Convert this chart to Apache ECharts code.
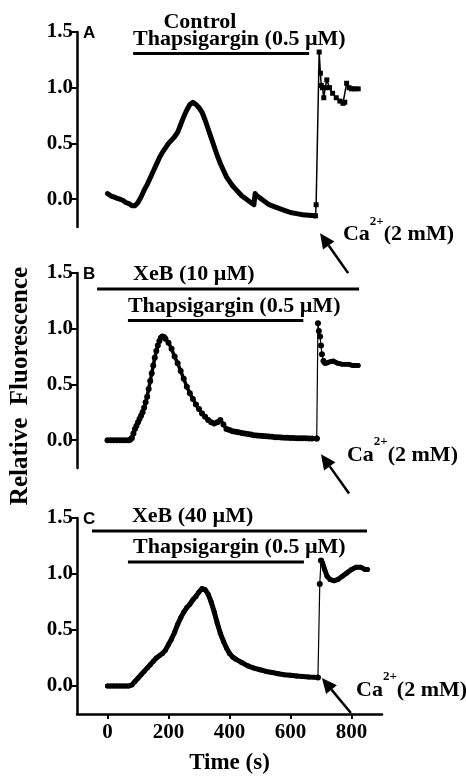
<!DOCTYPE html>
<html>
<head>
<meta charset="utf-8">
<style>
html,body{margin:0;padding:0;background:#fff;}
#chart{width:466px;height:776px;}
</style>
<script src="https://cdn.jsdelivr.net/npm/echarts@6/dist/echarts.min.js"></script>
</head>
<body>
<div id="chart"></div>
<script>
// ---- Data (time in s, relative fluorescence) ----
const yTicks = [0, 0.5, 1.0, 1.5];
const xTicks = [0, 200, 400, 600, 800];

// Panel A: Control
const traceA = [[0,0.05],[10,0.03],[20,0.02],[30,0.01],[40,0.0],[50,-0.01],[60,-0.03],[70,-0.04],[80,-0.06],[90,-0.06],
 [100,-0.03],[110,0.02],[120,0.08],[130,0.13],[140,0.19],[150,0.25],[160,0.31],[170,0.37],[180,0.42],[190,0.46],
 [200,0.50],[210,0.53],[220,0.56],[230,0.60],[240,0.67],[250,0.74],[260,0.80],[270,0.85],[280,0.87],[290,0.85],
 [300,0.82],[310,0.78],[320,0.71],[330,0.63],[340,0.55],[350,0.47],[360,0.39],[370,0.32],[380,0.26],[390,0.20],
 [400,0.16],[410,0.12],[420,0.09],[430,0.06],[440,0.03],[450,0.01],[460,-0.01],[470,-0.03],[480,-0.05],
 [484,0.05],[490,0.03],[500,0.01],[510,-0.01],[520,-0.03],[530,-0.05],[540,-0.06],[560,-0.08],[580,-0.10],
 [600,-0.12],[620,-0.13],[640,-0.14],[660,-0.145],[682,-0.15]];
const caA = [[682,-0.15],[684,-0.05],[694,1.32],[698,1.13],[701,1.02],[705,1.0],[709,0.91],[714,1.0],[719,1.07],
 [728,1.0],[738,0.95],[750,0.91],[762,0.88],[772,0.86],[778,0.87],[784,1.04],[792,1.0],[800,0.99],[810,0.99],[822,0.99]];

// Panel B: XeB 10 uM
const traceB = [[0,0.0],[10,0.0],[20,0.0],[30,0.0],[40,0.0],[50,0.0],[60,0.0],[70,0.0],[75,0.005],
 [80,0.02],[85,0.06],[90,0.10],[95,0.13],[100,0.16],[105,0.19],[110,0.22],[115,0.25],[120,0.29],[125,0.34],
 [130,0.39],[135,0.46],[140,0.53],[145,0.60],[150,0.67],[155,0.74],[160,0.80],[165,0.85],[170,0.89],[175,0.92],
 [180,0.93],[185,0.925],[190,0.91],[200,0.875],[210,0.82],[220,0.75],[230,0.69],[240,0.62],[250,0.55],[260,0.48],
 [270,0.42],[280,0.37],[290,0.32],[300,0.28],[310,0.24],[320,0.21],[330,0.18],[340,0.16],[350,0.15],[360,0.16],
 [370,0.18],[380,0.14],[390,0.10],[400,0.09],[410,0.08],[420,0.075],[430,0.07],[440,0.065],[450,0.06],[460,0.055],
 [470,0.05],[480,0.045],[490,0.042],[500,0.04],[510,0.037],[520,0.035],[530,0.032],[540,0.03],[550,0.027],
 [560,0.025],[570,0.023],[580,0.022],[590,0.021],[600,0.02],[610,0.019],[620,0.018],[630,0.017],[640,0.016],
 [650,0.016],[660,0.015],[670,0.015],[686,0.015]];
const caJumpB = [[686,0.015],[690,1.05],[693,0.98],[697,0.93],[700,0.85],[703,0.77],[708,0.71]];
const caB = [[708,0.71],[712,0.69],[718,0.69],[725,0.70],[732,0.705],[740,0.71],[748,0.70],[755,0.69],[762,0.685],
 [770,0.68],[780,0.68],[790,0.68],[798,0.675],[805,0.67],[812,0.67],[822,0.67]];

// Panel C: XeB 40 uM
const traceC = [[0,0.0],[10,0.0],[20,0.0],[30,0.0],[40,0.0],[50,0.0],[60,0.0],[70,0.0],[80,0.01],[90,0.04],
 [100,0.07],[110,0.10],[120,0.13],[130,0.16],[140,0.19],[150,0.22],[160,0.25],[170,0.27],[180,0.29],[190,0.32],
 [200,0.37],[210,0.42],[220,0.48],[230,0.55],[240,0.61],[250,0.66],[260,0.70],[270,0.73],[280,0.77],[290,0.80],
 [300,0.84],[310,0.87],[320,0.86],[330,0.82],[340,0.75],[350,0.66],[360,0.56],[370,0.47],[380,0.40],[390,0.34],
 [400,0.29],[410,0.26],[420,0.24],[440,0.21],[460,0.18],[480,0.16],[500,0.145],[520,0.13],[540,0.12],[560,0.11],
 [580,0.10],[600,0.095],[620,0.09],[640,0.085],[660,0.08],[690,0.075]];
const caJumpC = [[690,0.075],[696,0.91],[700,1.12]];
const caC = [[700,1.12],[705,1.10],[712,1.04],[720,0.98],[730,0.95],[742,0.94],[755,0.95],[770,0.98],[785,1.01],
 [800,1.04],[815,1.06],[830,1.06],[845,1.04],[852,1.04]];

// Treatment bars: [panel, start s, end s, level]
const bars = [[0,84,661,1.306],[1,-34,825,1.357],[1,67,642,1.073],[2,-51,851,1.384],[2,67,644,1.107]];
// Texts: [panel, x s, y value, text, align]
const labels = [[0,303,1.589,'Control','center'],[0,84,1.432,'Thapsigargin (0.5 µM)','left'],
 [1,84,1.488,'XeB (10 µM)','left'],[1,67,1.202,'Thapsigargin (0.5 µM)','left'],
 [2,80,1.518,'XeB (40 µM)','left'],[2,84,1.237,'Thapsigargin (0.5 µM)','left']];
const panelLetters = ['A','B','C'];
// Ca2+ annotation: [panel, text x s, text y, arrow tip x, tip y, tail x, tail y]
const caNotes = [[0,772,-0.319,697,-0.305,789,-0.664],[1,785,-0.135,700,-0.126,792,-0.478],[2,815,-0.04,703,0.071,798,-0.241]];

// ---- Chart ----
const SERIF = '"Liberation Serif","Times New Roman",serif';
const SANS = '"Liberation Sans",Arial,sans-serif';
const chart = echarts.init(document.getElementById('chart'), null, {renderer:'canvas'});
const grids = [
  {left:77, top:32, width:305, height:195},
  {left:77, top:273, width:305, height:195},
  {left:77, top:518, width:305, height:196}
];
const xAxes = grids.map((g,i)=>({
  type:'value', gridIndex:i, min:-100, max:900, show: i===2,
  axisLine:{show:true, onZero:false, lineStyle:{color:'#000', width:2.5}},
  axisTick:{show:true, length:5, customValues:xTicks, lineStyle:{color:'#000', width:2}},
  axisLabel:{customValues:xTicks, fontFamily:SERIF, fontWeight:'bold', fontSize:21, color:'#000', margin:8},
  splitLine:{show:false}
}));
const yAxes = grids.map((g,i)=>({
  type:'value', gridIndex:i, min:-0.25, max:1.5,
  axisLine:{show:true, onZero:false, lineStyle:{color:'#000', width:2.5}},
  axisTick:{show:true, length:5, customValues:yTicks, lineStyle:{color:'#000', width:2}},
  axisLabel:{customValues:yTicks, formatter:v=>v.toFixed(1), fontFamily:SERIF, fontWeight:'bold', fontSize:21, color:'#000', margin:4},
  splitLine:{show:false}
}));
function line(i, data, width, symbol, size){
  return {type:'line', xAxisIndex:i, yAxisIndex:i, data:data, symbol:symbol||'none', symbolSize:size||0,
    showSymbol:!!symbol, smooth:false, animation:false, silent:true,
    lineStyle:{color:'#000', width:width, cap:'round', join:'round'},
    itemStyle:{color:'#000', borderWidth:0}};
}
const series = [
  line(0, traceA, 5),
  line(0, caA, 1.5, 'rect', 5),
  line(1, traceB, 3.5, 'circle', 6),
  line(1, caJumpB, 1.2, 'circle', 6),
  line(1, caB, 4.5, 'circle', 5),
  line(2, traceC, 5, 'circle', 5),
  line(2, caJumpC, 1.2, 'circle', 6),
  line(2, caC, 5, 'circle', 5)
];
chart.setOption({backgroundColor:'#fff', animation:false, grid:grids, xAxis:xAxes, yAxis:yAxes, series:series});

// ---- Annotations positioned through the axes ----
function px(i, x, y){ return chart.convertToPixel({xAxisIndex:i, yAxisIndex:i}, [x, y]); }
const g = [];
bars.forEach(b=>{
  const p0 = px(b[0], b[1], b[3]), p1 = px(b[0], b[2], b[3]);
  g.push({type:'line', shape:{x1:p0[0], y1:p0[1], x2:p1[0], y2:p1[1]}, style:{stroke:'#000', lineWidth:3}});
});
labels.forEach(l=>{
  const p = px(l[0], l[1], l[2]);
  g.push({type:'text', x:p[0], y:p[1], style:{text:l[3], fill:'#000', font:'bold 22px '+SERIF, align:l[4], verticalAlign:'middle'}});
});
panelLetters.forEach((t,i)=>{
  const p = px(i, -100, 1.5);
  g.push({type:'text', x:p[0]+6, y:p[1]+1, style:{text:t, fill:'#000', font:'bold 17px '+SANS, align:'left', verticalAlign:'middle'}});
});
caNotes.forEach(c=>{
  const p = px(c[0], c[1], c[2]);
  g.push({type:'text', x:p[0], y:p[1], style:{
    text:'{a|Ca}{s|2+}{a|(2 mM)}', align:'left', verticalAlign:'middle', fill:'#000',
    rich:{a:{fontFamily:SERIF, fontWeight:'bold', fontSize:22, lineHeight:40, fill:'#000'},
          s:{fontFamily:SERIF, fontWeight:'bold', fontSize:13, lineHeight:14, verticalAlign:'top', fill:'#000'}}}});
  const tip = px(c[0], c[3], c[4]), tail = px(c[0], c[5], c[6]);
  const dx = tip[0]-tail[0], dy = tip[1]-tail[1], L = Math.sqrt(dx*dx+dy*dy);
  const ux = dx/L, uy = dy/L, nx = -uy, ny = ux, hl = 15, hw = 7;
  const bx = tip[0]-ux*hl, by = tip[1]-uy*hl;
  g.push({type:'line', shape:{x1:tail[0], y1:tail[1], x2:bx, y2:by}, style:{stroke:'#000', lineWidth:2.5}});
  g.push({type:'polygon', shape:{points:[[tip[0],tip[1]],[bx+nx*hw,by+ny*hw],[bx-nx*hw,by-ny*hw]]}, style:{fill:'#000'}});
});
// axis titles
g.push({type:'text', x:21, y:386, rotation:Math.PI/2, style:{text:'Relative  Fluorescence', fill:'#000', font:'bold 25px '+SERIF, align:'center', verticalAlign:'middle'}});
const tx = px(2, 400, -0.25);
g.push({type:'text', x:tx[0], y:763, style:{text:'Time (s)', fill:'#000', font:'bold 23px '+SERIF, align:'center', verticalAlign:'middle'}});
chart.setOption({graphic:g});
</script>
</body>
</html>
